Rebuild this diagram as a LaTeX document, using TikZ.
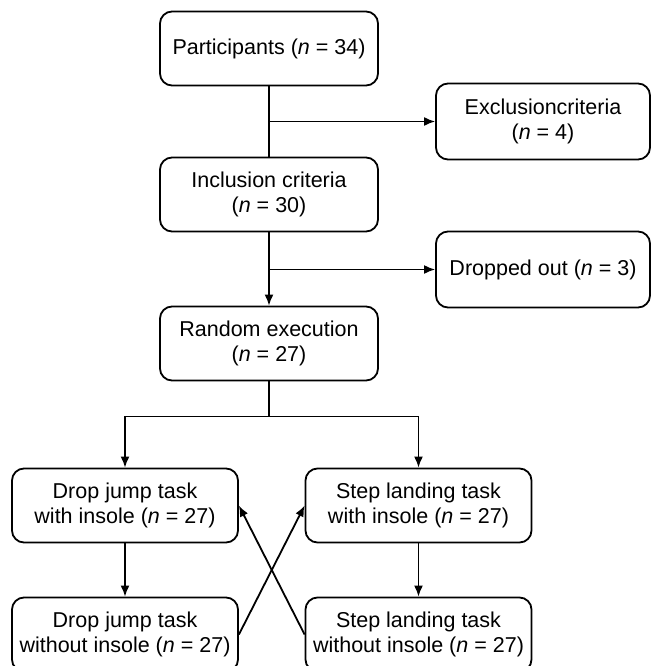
\documentclass[tikz,border=0pt]{standalone}
\usepackage{fontspec}
\setmainfont{Liberation Sans}
\usetikzlibrary{shapes.misc, arrows.meta, positioning}

\begin{document}
\begin{tikzpicture}[x=1pt, y=1pt, node distance=146pt, font=\fontsize{21.5}{25}\selectfont,
    stage/.style={draw, rectangle, rounded corners=12pt, line width=1.8pt, text centered, align=center, minimum width=218pt, minimum height=74pt},
    side/.style={stage, minimum width=214pt, minimum height=76pt},
    task/.style={stage, minimum width=226pt},
    link/.style={line width=1.8pt},
    flow/.style={link, -{Latex[length=11pt, width=9pt]}}]
    \useasboundingbox (0,0) rectangle (651,-666);
    % Define the blocks for each stage
    \node (participants) [stage] at (269,-48.5) {Participants (\textit{n} = 34)};
    \node (inclusion) [stage, below of=participants] {Inclusion criteria \\ (\textit{n} = 30)};
    \node (random) [stage, below of=inclusion, yshift=-3pt] {Random execution \\ (\textit{n} = 27)};
    \node (exclusion) [side, right of=participants, xshift=128pt, yshift=-73pt] {Exclusioncriteria \\ (\textit{n} = 4)};
    \node (dropped) [side, below of=exclusion, yshift=-2pt] {Dropped out (\textit{n} = 3)};
    \node (jumpwith) [task, below of=random, xshift=-144pt, yshift=-16pt] {Drop jump task \\ with insole (\textit{n} = 27)};
    \node (stepwith) [task, right of=jumpwith, xshift=147.5pt] {Step landing task \\ with insole (\textit{n} = 27)};
    \node (jumpwithout) [task, below of=jumpwith, yshift=17pt] {Drop jump task \\ without insole (\textit{n} = 27)};
    \node (stepwithout) [task, below of=stepwith, yshift=17pt] {Step landing task \\ without insole (\textit{n} = 27)};
    % Draw the connectors between the blocks
    \draw[link] (participants) -- (inclusion);
    \draw[flow] (participants.south |- exclusion.west) -- (exclusion.west);
    \draw[flow] (inclusion) -- (random);
    \draw[flow] (inclusion.south |- dropped.west) -- (dropped.west);
    \draw[link] (random.south) -- ++(0,-35) coordinate (split);
    \draw[flow] (split) -| (jumpwith.north);
    \draw[flow] (split) -| (stepwith.north);
    \draw[flow] (jumpwith) -- (jumpwithout);
    \draw[flow] (stepwith) -- (stepwithout);
    \draw[flow] (jumpwithout.east) -- (stepwith.west);
    \draw[flow] (stepwithout.west) -- (jumpwith.east);
\end{tikzpicture}
\end{document}
